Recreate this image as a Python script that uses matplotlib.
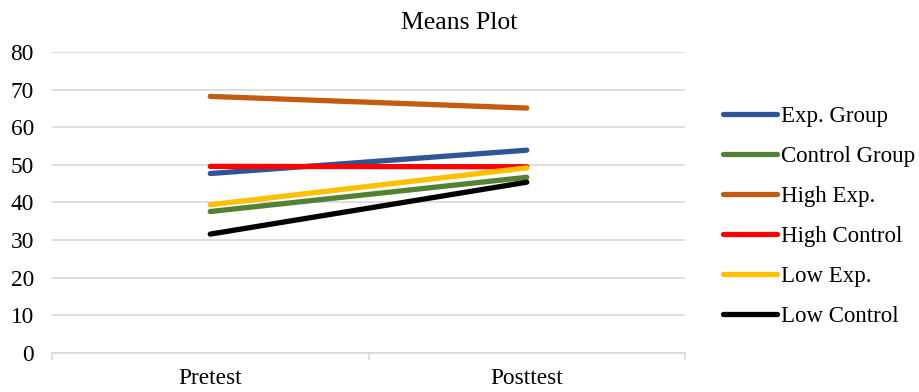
import matplotlib
matplotlib.use('Agg')
import matplotlib.pyplot as plt

plt.rcParams['font.family'] = ['Liberation Serif', 'DejaVu Serif']

phases = ['Pretest', 'Posttest']
groups = ['Exp. Group', 'Control Group', 'High Exp.', 'High Control', 'Low Exp.', 'Low Control']
exp_group = [47.7, 53.9]
control_group = [37.6, 46.7]
high_exp = [68.2, 65.1]
high_control = [49.6, 49.5]
low_exp = [39.4, 49.2]
low_control = [31.6, 45.4]
series = [exp_group, control_group, high_exp, high_control, low_exp, low_control]
colors = ['#2F5597', '#548235', '#C55A11', '#FF0000', '#FFC000', '#000000']

fig = plt.figure(figsize=(9.19, 3.92), dpi=100)
ax = fig.add_axes([52/919, 1 - 353/392, 633/919, 301/392])

x = range(len(phases))
for vals, c, lab in zip(series, colors, groups):
    ax.plot(x, vals, color=c, linewidth=3.8, solid_capstyle='round', label=lab)

ax.set_xlim(-0.5, 1.5)
ax.set_ylim(0, 80)
ax.set_yticks(range(0, 81, 10))
ax.set_xticks([0, 1])
ax.set_xticklabels(phases)
ax.grid(axis='y', color='#D9D9D9', linewidth=1.2)
ax.set_axisbelow(True)
for s in ['top', 'right', 'left']:
    ax.spines[s].set_visible(False)
ax.spines['bottom'].set_color('#D9D9D9')
ax.spines['bottom'].set_linewidth(1.2)
ax.tick_params(axis='y', length=0, labelsize=16.8, pad=13)
ax.tick_params(axis='x', length=0, labelsize=16.8, pad=11)
# category boundary ticks
ax.set_xticks([-0.5, 0.5, 1.5], minor=True)
ax.tick_params(axis='x', which='minor', length=5, color='#D9D9D9', width=1.2)

fig.text(0.5, 1 - 23/392, 'Means Plot', ha='center', va='center', fontsize=18.5)

leg = fig.legend(loc='center left', bbox_to_anchor=(723/919, 1 - 216.5/392), frameon=False,
                 fontsize=16.5, handlelength=2.36, handletextpad=0.17, labelspacing=0.82,
                 borderaxespad=0, borderpad=0)
for h in leg.get_lines():
    h.set_linewidth(3.8)

fig.savefig('out.png', dpi=100)
